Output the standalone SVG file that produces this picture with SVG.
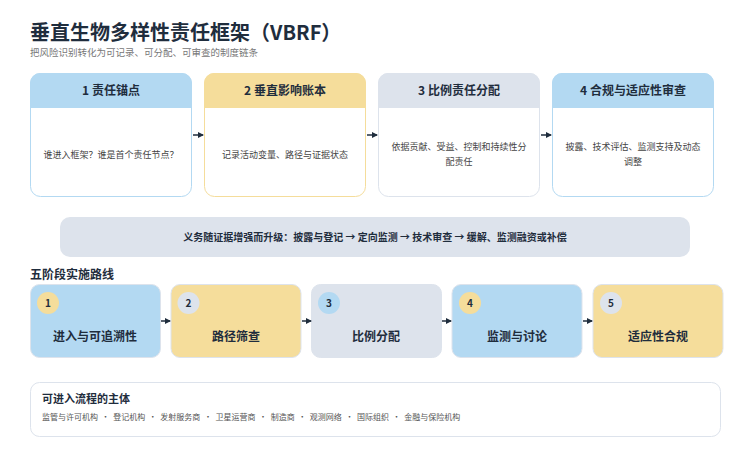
<svg xmlns="http://www.w3.org/2000/svg" width="750" height="467" viewBox="0 0 750 467">
<defs>
<style>
text{font-family:"Noto Sans CJK SC","Noto Sans",sans-serif;fill:#1f2d3d}
.h{font-size:12px;font-weight:bold;text-anchor:middle}
.b{font-size:9px;fill:#444;text-anchor:middle}
.s{font-size:12px;font-weight:bold;text-anchor:middle}
.n{font-size:10px;font-weight:bold;text-anchor:middle}
.blue{fill:#b3d9f2}.yel{fill:#f5dd9b}.gray{fill:#dde3ec}
.a{stroke:#1f2d3d;stroke-width:1.5;fill:none;marker-end:url(#ar)}
</style>
<marker id="ar" markerWidth="6" markerHeight="6" refX="5" refY="3" orient="auto" markerUnits="userSpaceOnUse"><path d="M0,0L6,3L0,6z" fill="#1f2d3d"/></marker>
<clipPath id="c"><rect x="0" y="0" width="162" height="124" rx="10"/></clipPath>
</defs>
<rect width="750" height="467" fill="#fff"/>
<text x="30" y="40" style="font-size:20px;font-weight:bold">垂直生物多样性责任框架（VBRF）</text>
<text x="30" y="56" style="font-size:9.5px;fill:#777">把风险识别转化为可记录、可分配、可审查的制度链条</text>

<g id="card1" transform="translate(30,73)"><g clip-path="url(#c)"><rect width="162" height="124" fill="#fff"/><rect width="162" height="35" class="blue"/></g><rect x="0.5" y="0.5" width="161" height="123" rx="10" fill="none" stroke="#b3d9f2"/><text x="81" y="22" class="h">1 责任锚点</text><text x="81" y="85" class="b">谁进入框架？谁是首个责任节点？</text></g>
<g id="card2" transform="translate(204,73)"><g clip-path="url(#c)"><rect width="162" height="124" fill="#fff"/><rect width="162" height="35" class="yel"/></g><rect x="0.5" y="0.5" width="161" height="123" rx="10" fill="none" stroke="#f5dd9b"/><text x="81" y="22" class="h">2 垂直影响账本</text><text x="81" y="85" class="b">记录活动变量、路径与证据状态</text></g>
<g id="card3" transform="translate(378,73)"><g clip-path="url(#c)"><rect width="162" height="124" fill="#fff"/><rect width="162" height="35" class="gray"/></g><rect x="0.5" y="0.5" width="161" height="123" rx="10" fill="none" stroke="#dde3ec"/><text x="81" y="22" class="h">3 比例责任分配</text><text x="81" y="77" class="b">依据贡献、受益、控制和持续性分</text><text x="81" y="92" class="b">配责任</text></g>
<g id="card4" transform="translate(552,73)"><g clip-path="url(#c)"><rect width="162" height="124" fill="#fff"/><rect width="162" height="35" class="blue"/></g><rect x="0.5" y="0.5" width="161" height="123" rx="10" fill="none" stroke="#b3d9f2"/><text x="81" y="22" class="h">4 合规与适应性审查</text><text x="81" y="77" class="b">披露、技术评估、监测支持及动态</text><text x="81" y="92" class="b">调整</text></g>

<g id="banner"><rect x="60" y="217" width="630" height="40" rx="10" class="gray"/><text x="375" y="241" style="font-size:10px;font-weight:bold;text-anchor:middle">义务随证据增强而升级：披露与登记 → 定向监测 → 技术审查 → 缓解、监测融资或补偿</text></g>

<text x="30" y="279" style="font-size:12px;font-weight:bold">五阶段实施路线</text>
<g id="stage1"><rect x="30.5" y="284.5" width="130" height="73" rx="9" class="blue" stroke="#dde3ec"/><circle cx="48" cy="303" r="11" class="yel"/><text x="48" y="307" class="n">1</text><text x="95" y="341" class="s">进入与可追溯性</text></g>
<g id="stage2"><rect x="171" y="284.5" width="130" height="73" rx="9" class="yel" stroke="#dde3ec"/><circle cx="188.5" cy="303" r="11" class="gray"/><text x="188.5" y="307" class="n">2</text><text x="236" y="341" class="s">路径筛查</text></g>
<g id="stage3"><rect x="311.5" y="284.5" width="130" height="73" rx="9" class="gray" stroke="#dde3ec"/><circle cx="329" cy="303" r="11" class="blue"/><text x="329" y="307" class="n">3</text><text x="376" y="341" class="s">比例分配</text></g>
<g id="stage4"><rect x="452" y="284.5" width="130" height="73" rx="9" class="blue" stroke="#dde3ec"/><circle cx="470" cy="303" r="11" class="yel"/><text x="470" y="307" class="n">4</text><text x="517" y="341" class="s">监测与讨论</text></g>
<g id="stage5"><rect x="593" y="284.5" width="130" height="73" rx="9" class="yel" stroke="#dde3ec"/><circle cx="611" cy="303" r="11" class="gray"/><text x="611" y="307" class="n">5</text><text x="658" y="341" class="s">适应性合规</text></g>

<g id="connectors">
<line x1="193" y1="135" x2="203" y2="135" class="a"/>
<line x1="367" y1="135" x2="377" y2="135" class="a"/>
<line x1="541" y1="135" x2="551" y2="135" class="a"/>
<line x1="161" y1="321" x2="170" y2="321" class="a"/>
<line x1="302" y1="321" x2="311" y2="321" class="a"/>
<line x1="442" y1="321" x2="451" y2="321" class="a"/>
<line x1="583" y1="321" x2="592" y2="321" class="a"/>
</g>

<g id="actors"><rect x="30.5" y="382.5" width="690" height="54" rx="9" fill="#fff" stroke="#dde3ec"/><text x="42" y="403" style="font-size:11px;font-weight:bold">可进入流程的主体</text><text x="42" y="420" style="font-size:8px;fill:#555" xml:space="preserve">监管与许可机构  ·  登记机构  ·  发射服务商  ·  卫星运营商  ·  制造商  ·  观测网络  ·  国际组织  ·  金融与保险机构</text></g>
</svg>
